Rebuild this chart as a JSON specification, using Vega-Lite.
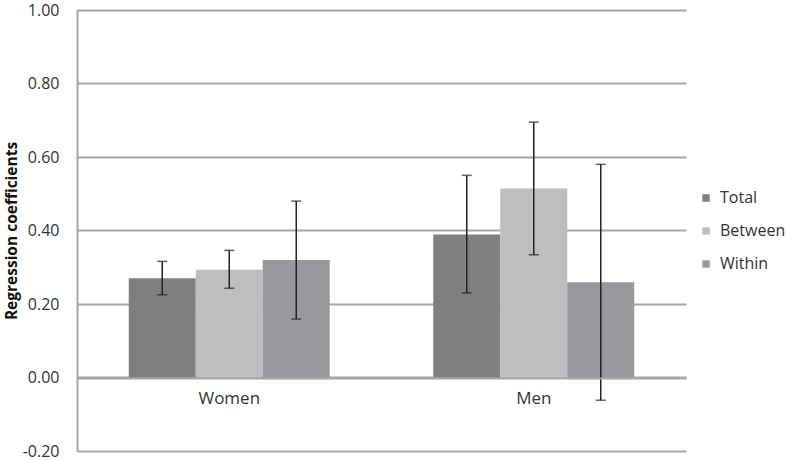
{
  "$schema": "https://vega.github.io/schema/vega-lite/v6.json",
  "width": 609,
  "height": 441,
  "autosize": {"type": "none"},
  "padding": {"left": 77, "top": 10, "right": 101, "bottom": 9},
  "background": "white",
  "config": {
    "font": "Open Sans",
    "view": {"stroke": null}
  },
  "data": {
    "values": [
      {"sex": "Women", "type": "Total", "value": 0.27, "lo": 0.225, "hi": 0.316},
      {"sex": "Women", "type": "Between", "value": 0.293, "lo": 0.243, "hi": 0.346},
      {"sex": "Women", "type": "Within", "value": 0.32, "lo": 0.159, "hi": 0.48},
      {"sex": "Men", "type": "Total", "value": 0.389, "lo": 0.23, "hi": 0.55},
      {"sex": "Men", "type": "Between", "value": 0.514, "lo": 0.334, "hi": 0.695},
      {"sex": "Men", "type": "Within", "value": 0.259, "lo": -0.062, "hi": 0.58}
    ]
  },
  "encoding": {
    "x": {
      "field": "sex",
      "type": "nominal",
      "sort": ["Women", "Men"],
      "scale": {"paddingInner": 0.34, "paddingOuter": 0.17},
      "axis": {
        "title": null,
        "labelAngle": 0,
        "labelFontSize": 17,
        "labelColor": "#333333",
        "labelPadding": 12,
        "ticks": false,
        "domainColor": "#a6a6a6",
        "domainWidth": 2,
        "offset": -73,
        "zindex": 1
      }
    },
    "xOffset": {
      "field": "type",
      "type": "nominal",
      "sort": ["Total", "Between", "Within"],
      "scale": {"paddingInner": 0, "paddingOuter": 0}
    }
  },
  "layer": [
    {
      "mark": {"type": "bar"},
      "encoding": {
        "y": {
          "field": "value",
          "type": "quantitative",
          "scale": {"domain": [-0.2, 1.0], "nice": false},
          "axis": {
            "title": "Regression coefficients",
            "titleFontSize": 15.5,
            "titleFontWeight": "bold",
            "titleColor": "#111111",
            "titlePadding": 3,
            "values": [-0.2, 0, 0.2, 0.4, 0.6, 0.8, 1.0],
            "labelExpr": "datum.value < 0 ? '-' + format(-datum.value, '.2f') : format(datum.value, '.2f')",
            "labelFontSize": 16,
            "labelColor": "#333333",
            "labelPadding": 18,
            "ticks": false,
            "grid": true,
            "gridColor": "#a6a6a6",
            "gridWidth": 1.8,
            "domainColor": "#a6a6a6",
            "domainWidth": 2
          }
        },
        "color": {
          "field": "type",
          "type": "nominal",
          "sort": ["Total", "Between", "Within"],
          "scale": {"domain": ["Total", "Between", "Within"], "range": ["#7f7f82", "#bdbec0", "#98999c"]},
          "legend": {
            "title": null,
            "orient": "none",
            "legendX": 621,
            "legendY": 180,
            "symbolType": "square",
            "symbolSize": 55,
            "symbolStrokeWidth": 0,
            "labelFontSize": 16,
            "labelColor": "#333333",
            "rowPadding": 17,
            "labelOffset": 6
          }
        }
      }
    },
    {
      "mark": {"type": "rule", "color": "#222222", "strokeWidth": 1.5},
      "encoding": {
        "y": {"field": "lo", "type": "quantitative"},
        "y2": {"field": "hi"}
      }
    },
    {
      "mark": {"type": "tick", "color": "#222222", "thickness": 1.5, "size": 10},
      "encoding": {
        "y": {"field": "lo", "type": "quantitative"}
      }
    },
    {
      "mark": {"type": "tick", "color": "#222222", "thickness": 1.5, "size": 10},
      "encoding": {
        "y": {"field": "hi", "type": "quantitative"}
      }
    }
  ]
}
